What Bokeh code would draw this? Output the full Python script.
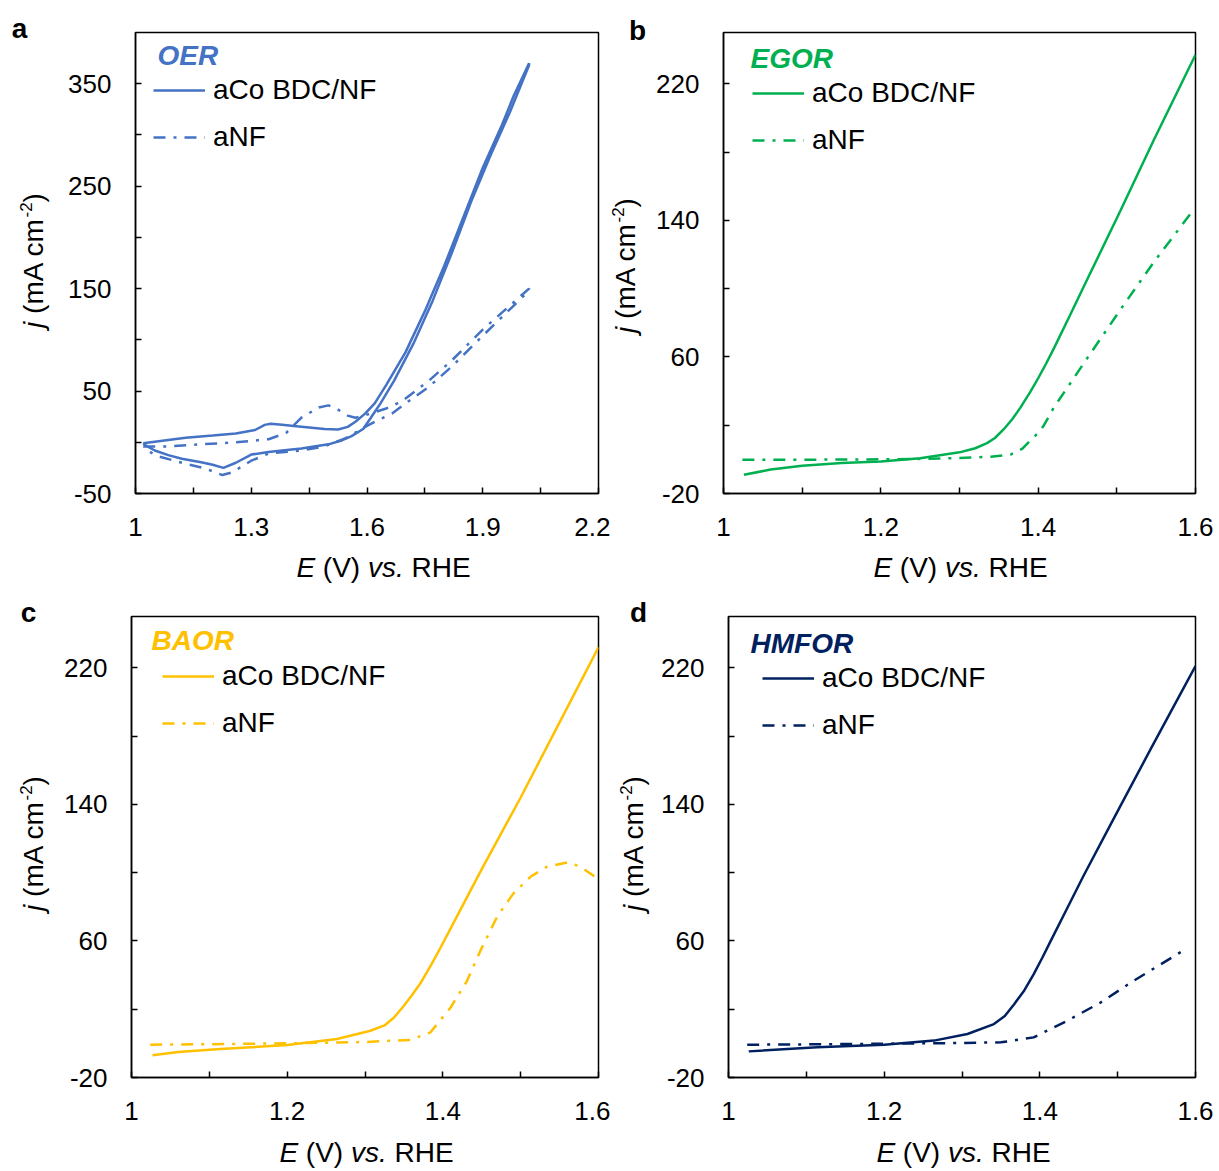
import math
from bokeh.plotting import figure
from bokeh.models import (FixedTicker, Label, Legend, LegendItem, Range1d,
                          CustomJSTickFormatter, GridBox)
from bokeh.layouts import row, column
from bokeh.embed import file_html
from bokeh.resources import INLINE

FONT = "Liberation Sans"
PAGE_W, PAGE_H = 1219, 1171

# ---------------- data: potential E (V vs. RHE) and current density j (mA cm-2) ----------------
# a) OER, cyclic sweeps (forward then reverse)
oer_co_E = [1.02, 1.08, 1.13, 1.20, 1.26, 1.31, 1.335, 1.35, 1.38, 1.41, 1.45, 1.49, 1.525, 1.55, 1.57,
            1.595, 1.62, 1.65, 1.70, 1.75, 1.80, 1.85, 1.90, 1.95, 1.98, 2.02,
            2.02, 1.97, 1.92, 1.87, 1.82, 1.77, 1.72, 1.67, 1.635, 1.61, 1.59, 1.56, 1.536, 1.50,
            1.43, 1.38, 1.345, 1.30, 1.26, 1.228, 1.20, 1.17, 1.12, 1.085, 1.05, 1.026, 1.02]
oer_co_j = [-1, 2, 4.5, 6.5, 8.5, 12, 17, 18, 17, 16, 14.5, 13, 12.5, 15, 20,
            28, 38, 56, 88, 128, 172, 220, 268, 310, 338, 370,
            368, 322, 280, 235, 185, 138, 96, 60, 38, 24, 13, 6, 2, -2,
            -6, -8, -9.5, -12, -20, -25, -22, -19.5, -16, -12.5, -8, -3, -1]
oer_nf_E = [1.02, 1.08, 1.17, 1.26, 1.345, 1.39, 1.43, 1.475, 1.50, 1.52, 1.55, 1.57, 1.60, 1.65,
            1.69, 1.76, 1.82, 1.90, 1.96, 2.02,
            2.02, 1.96, 1.90, 1.82, 1.76, 1.70, 1.665, 1.63, 1.60, 1.545, 1.49, 1.43, 1.345,
            1.30, 1.25, 1.225, 1.18, 1.13, 1.052, 1.02]
oer_nf_j = [-4, -4, -2, 0, 3, 9, 24, 34, 36, 33, 26, 24, 27, 33,
            40, 60, 80, 110, 130, 150,
            148, 126, 104, 74, 54, 38, 28, 22, 16, 4, -4, -8, -11,
            -18, -29.5, -32, -25.5, -21, -13, -5]

# b) EGOR
egor_co_E = [1.026, 1.06, 1.10, 1.15, 1.20, 1.25, 1.30, 1.32, 1.335, 1.345, 1.356, 1.367, 1.377,
             1.39, 1.40, 1.41, 1.42, 1.44, 1.462, 1.505, 1.547, 1.60]
egor_co_j = [-9, -6, -3.8, -2.2, -1.2, 0.6, 4.1, 6.5, 9.5, 12.5, 17.5, 23.5, 30,
             39.5, 47.5, 56, 65, 84, 105, 146, 187, 237]
egor_nf_E = [1.024, 1.10, 1.20, 1.25, 1.30, 1.34, 1.365, 1.38, 1.39, 1.40, 1.407, 1.42, 1.44,
             1.462, 1.505, 1.547, 1.596]
egor_nf_j = [-0.3, -0.2, 0, 0.3, 0.8, 1.5, 2.8, 6.3, 11, 15.5, 19.7, 30.4, 44,
             59, 88, 115.5, 145.3]

# c) BAOR
baor_co_E = [1.027, 1.06, 1.114, 1.20, 1.264, 1.307, 1.325, 1.337, 1.35, 1.36, 1.371, 1.385, 1.397,
             1.42, 1.45, 1.50, 1.55, 1.60]
baor_co_j = [-7, -5, -3.3, -1.0, 2.5, 7.4, 10.5, 15, 22, 28, 35, 46, 56, 76, 102, 144, 188, 232]
baor_nf_E = [1.024, 1.10, 1.20, 1.30, 1.358, 1.384, 1.41, 1.431, 1.448, 1.47, 1.491, 1.513, 1.534,
             1.56, 1.577, 1.598]
baor_nf_j = [-0.8, -0.5, 0, 0.8, 2, 6.4, 21, 36.5, 54, 74.4, 88, 97.7, 103.5, 106, 103.5, 96.7]

# d) HMFOR
hmfor_co_E = [1.026, 1.114, 1.20, 1.264, 1.307, 1.341, 1.355, 1.367, 1.38, 1.392, 1.403, 1.414,
              1.435, 1.456, 1.50, 1.542, 1.581, 1.60]
hmfor_co_j = [-4.7, -2.3, -0.8, 1.6, 5.5, 11.3, 16, 22.9, 31, 40.4, 50, 60,
              79, 98, 136, 172, 205, 221]
hmfor_nf_E = [1.024, 1.10, 1.20, 1.30, 1.35, 1.392, 1.435, 1.478, 1.52, 1.587]
hmfor_nf_j = [-0.8, -0.6, -0.2, 0.2, 0.6, 3.5, 13.2, 23.9, 36.5, 55.1]

SERIES = ["aCo BDC/NF", "aNF"]

# ---------------- text helpers ----------------
ARIAL_W = {' ': 278, '(': 333, ')': 333, '.': 278, '-': 333, '/': 278, '2': 556,
           'A': 667, 'E': 667, 'H': 722, 'R': 722, 'V': 667,
           'a': 556, 'c': 500, 'j': 222, 'm': 833, 's': 500, 'v': 500}


def text_w(s, size):
    return sum(ARIAL_W.get(ch, 556) for ch in s) * size / 1000.0


# transparent full-page layer carrying the text that sits outside the plot boxes;
# its data coordinates are page pixels (y downwards)
page = figure(width=PAGE_W, height=PAGE_H, output_backend="svg", toolbar_location=None,
              x_range=Range1d(0, PAGE_W), y_range=Range1d(PAGE_H, 0),
              x_axis_location=None, y_axis_location=None,
              min_border=0, min_border_left=0, min_border_right=0,
              min_border_top=0, min_border_bottom=0)
page.grid.visible = False
page.outline_line_color = None
page.background_fill_color = None
page.border_fill_color = None


def page_text(px, py, text, size, style="normal", color="black", align="left", angle=0.0):
    page.add_layout(Label(x=px, y=py, text=text, text_font=FONT,
                          text_font_size=f"{size}px", text_font_style=style,
                          text_color=color, text_align=align,
                          text_baseline="middle", angle=angle))


def frame_text(p, fr, px, py, text, size, style="normal", color="black"):
    L, T, R, B = fr
    p.add_layout(Label(x=px - L, y=B - py, x_units="screen", y_units="screen",
                       text=text, text_font=FONT, text_font_size=f"{size}px",
                       text_font_style=style, text_color=color,
                       text_align="left", text_baseline="middle"))


def x_title(cx, cy, size=28):
    segs = [("E", "italic"), ("(V)", "normal"), ("vs.", "italic"), ("RHE", "normal")]
    sp = text_w(" ", size)
    total = sum(text_w(s, size) for s, _ in segs) + sp * (len(segs) - 1)
    x = cx - total / 2
    for s, st in segs:
        page_text(x, cy, s, size, st)
        x += text_w(s, size) + sp


def y_title(cx, cy, size=28, sup=17):
    segs = [("j", "italic", size, 0, True), ("(mA cm", "normal", size, 0, False),
            ("-2", "normal", sup, 8, False), (")", "normal", size, 0, False)]
    total = text_w(" ", size) + sum(text_w(s, sz) for s, _, sz, _, _ in segs)
    y = cy + total / 2
    for s, st, sz, lift, gap in segs:
        page_text(cx - lift, y, s, sz, st, angle=math.pi / 2)
        y -= text_w(s, sz) + (text_w(" ", size) if gap else 0)


def panel(fr, origin, size, xr, yr, xmaj, xmin, ymaj, ymin):
    L, T, R, B = fr
    ox, oy = origin
    W, H = size
    p = figure(width=W, height=H, output_backend="svg", toolbar_location=None,
               x_range=Range1d(*xr), y_range=Range1d(*yr),
               min_border_left=L - ox, min_border_right=ox + W - R,
               min_border_top=T - oy, min_border_bottom=oy + H - B)
    p.grid.visible = False
    p.outline_line_color = "black"
    p.outline_line_width = 1.5
    p.background_fill_color = "white"
    p.border_fill_color = "white"
    fmt = CustomJSTickFormatter(code="return String(tick);")
    for ax, maj, mnr in ((p.xaxis[0], xmaj, xmin), (p.yaxis[0], ymaj, ymin)):
        ax.ticker = FixedTicker(ticks=maj, minor_ticks=mnr)
        ax.formatter = fmt
        ax.axis_line_color = "black"
        ax.axis_line_width = 1.5
        ax.major_tick_in = 6
        ax.major_tick_out = 0
        ax.minor_tick_in = 6
        ax.minor_tick_out = 0
        ax.major_tick_line_color = "black"
        ax.minor_tick_line_color = "black"
        ax.major_tick_line_width = 1.5
        ax.minor_tick_line_width = 1.5
        ax.major_label_text_font = FONT
        ax.major_label_text_font_size = "26px"
        ax.major_label_text_color = "black"
    p.xaxis[0].major_label_standoff = 24
    p.yaxis[0].major_label_standoff = 24
    return p


def draw(p, fr, color, E1, j1, E2, j2, name, title_xy, legend_xy, letter, letter_xy,
         xt_xy, yt_xy):
    L, T, R, B = fr
    r1 = p.line(E1, j1, line_color=color, line_width=2.5)
    r2 = p.line(E2, j2, line_color=color, line_width=2.5, line_dash="12 8 3 8")
    lx, ly = legend_xy  # left of sample line, centre of first row (page px)
    item_h, gap = 30, 15
    leg = Legend(items=[LegendItem(label=SERIES[0], renderers=[r1]),
                        LegendItem(label=SERIES[1], renderers=[r2])],
                 location=(lx - L, B - (ly - item_h / 2 + 2 * item_h + gap)),
                 glyph_width=52, glyph_height=item_h, label_height=item_h,
                 label_standoff=8, spacing=gap, padding=0, margin=0,
                 border_line_alpha=0, background_fill_alpha=0,
                 label_text_font=FONT, label_text_font_size="28px",
                 label_text_color="black")
    p.add_layout(leg)
    frame_text(p, fr, title_xy[0], title_xy[1], name, 28, "bold italic", color)
    page_text(letter_xy[0], letter_xy[1], letter, 28, "bold", "black", align="center")
    x_title(*xt_xy)
    y_title(*yt_xy)


X_OER = [1, 1.3, 1.6, 1.9, 2.2]
X_OER_MINOR = [1.15, 1.45, 1.75, 2.05]
Y_OER = [-50, 50, 150, 250, 350]
Y_OER_MINOR = [0, 100, 200, 300]
X_ORR = [1, 1.2, 1.4, 1.6]
X_ORR_MINOR = [1.1, 1.3, 1.5]
Y_ORR = [-20, 60, 140, 220]
Y_ORR_MINOR = [20, 100, 180]

FA = (135, 32, 598, 493)
FB = (723, 32, 1195, 493)
FC = (131, 616, 598, 1077)
FD = (728, 616, 1195, 1077)

pa = panel(FA, (0, 0), (610, 585), (1, 2.2), (-50, 400), X_OER, X_OER_MINOR, Y_OER, Y_OER_MINOR)
draw(pa, FA, "#4472C4", oer_co_E, oer_co_j, oer_nf_E, oer_nf_j, "OER",
     (157, 55), (153, 93), "a", (19, 28), (383, 567), (33, 260))

pb = panel(FB, (610, 0), (609, 585), (1, 1.6), (-20, 250), X_ORR, X_ORR_MINOR, Y_ORR, Y_ORR_MINOR)
draw(pb, FB, "#00B050", egor_co_E, egor_co_j, egor_nf_E, egor_nf_j, "EGOR",
     (750, 58), (752, 96), "b", (637, 30), (960, 567), (625, 265))

pc = panel(FC, (0, 585), (610, 586), (1, 1.6), (-20, 250), X_ORR, X_ORR_MINOR, Y_ORR, Y_ORR_MINOR)
draw(pc, FC, "#FFC000", baor_co_E, baor_co_j, baor_nf_E, baor_nf_j, "BAOR",
     (151, 640), (162, 679), "c", (28, 612), (366, 1152), (33, 843))

pd = panel(FD, (610, 585), (609, 586), (1, 1.6), (-20, 250), X_ORR, X_ORR_MINOR, Y_ORR, Y_ORR_MINOR)
draw(pd, FD, "#002060", hmfor_co_E, hmfor_co_j, hmfor_nf_E, hmfor_nf_j, "HMFOR",
     (750, 643), (762, 681), "d", (638, 612), (963, 1152), (633, 843))

panels = column(row(pa, pb), row(pc, pd))
layout = GridBox(children=[(panels, 0, 0), (page, 0, 0)], spacing=0)

with open("out.html", "w") as f:
    f.write(file_html(layout, INLINE))
